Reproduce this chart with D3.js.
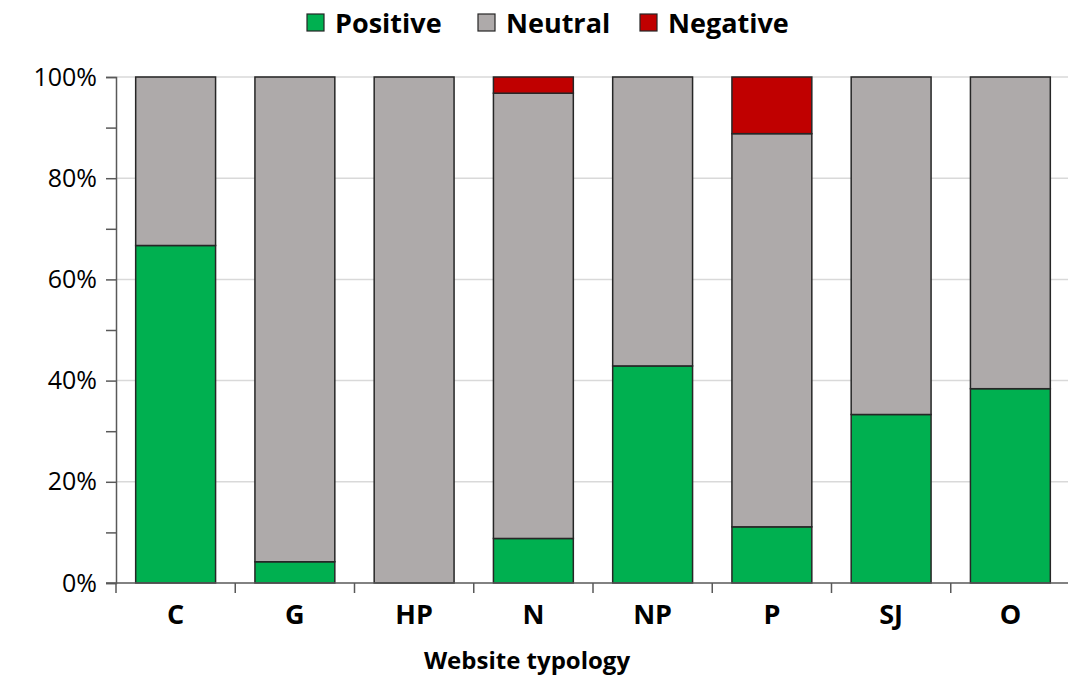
<!DOCTYPE html>
<html>
<head>
<meta charset="utf-8">
<script src="https://cdn.jsdelivr.net/npm/d3@7"></script>
<style>
  body { margin: 0; background: #fff; }
  svg text { font-family: "Open Sans", "Noto Sans", sans-serif; fill: #000; }
</style>
</head>
<body>
<svg id="chart" width="1068" height="680"></svg>
<script>
// data (percent of each website type)
var categories = ["C", "G", "HP", "N", "NP", "P", "SJ", "O"];
var positive = [66.7, 4.2, 0, 8.8, 42.9, 11.1, 33.3, 38.4];
var negative = [0, 0, 0, 3.2, 0, 11.2, 0, 0];
var neutral = categories.map(function(c, i) { return 100 - positive[i] - negative[i]; });
var seriesNames = ["Positive", "Neutral", "Negative"];
var seriesColors = ["#00B050", "#AEAAAA", "#C00000"];
var yTicks = [0, 20, 40, 60, 80, 100];

var width = 1068, height = 680;
var margin = { top: 77, right: 0, bottom: 97, left: 116 };
var svg = d3.select("#chart");

var x = d3.scaleBand().domain(categories)
	.range([margin.left, 1070]).paddingInner(0.33).paddingOuter(0.165);
var y = d3.scaleLinear().domain([0, 100]).range([height - margin.bottom, margin.top]);

// gridlines
svg.append("g").selectAll("line").data(yTicks.slice(1)).enter().append("line")
	.attr("x1", margin.left).attr("x2", 1070)
	.attr("y1", function(d) { return y(d); }).attr("y2", function(d) { return y(d); })
	.style("stroke", "#d9d9d9").style("stroke-width", 1.5);

// stack
var rows = categories.map(function(c, i) {
	return { cat: c, Positive: positive[i], Neutral: neutral[i], Negative: negative[i] };
});
var stack = d3.stack().keys(seriesNames)(rows);

svg.append("g").selectAll("g").data(stack).enter().append("g")
	.style("fill", function(d, i) { return seriesColors[i]; })
	.selectAll("rect").data(function(d) { return d.filter(function(p) { return p[1] - p[0] > 0; }); })
	.enter().append("rect")
	.attr("x", function(d) { return x(d.data.cat); })
	.attr("width", x.bandwidth())
	.attr("y", function(d) { return y(d[1]); })
	.attr("height", function(d) { return y(d[0]) - y(d[1]); })
	.style("stroke", "#262626").style("stroke-width", 1.5);

// y axis
var yAxis = svg.append("g").attr("transform", "translate(" + margin.left + ",0)")
	.call(d3.axisLeft(y).tickValues(d3.range(0, 101, 10)).tickSize(10)
		.tickFormat(function(d) { return d % 20 === 0 ? d + "%" : ""; }));
yAxis.select(".domain").style("stroke", "#595959").style("stroke-width", 1.5);
yAxis.selectAll(".tick line").style("stroke", "#595959").style("stroke-width", 1.5);
yAxis.selectAll(".tick text").attr("x", -19).style("font-size", "25px").attr("fill", "#000");

// x axis
var xAxisY = y(0);
var xg = svg.append("g");
xg.append("line").attr("x1", margin.left - 10).attr("x2", 1070)
	.attr("y1", xAxisY).attr("y2", xAxisY)
	.style("stroke", "#595959").style("stroke-width", 1.5);
var step = x.step();
xg.selectAll(".xt").data(categories).enter().append("line")
	.attr("class", "xt")
	.attr("x1", function(d) { return x(d) - x.paddingOuter() * step; })
	.attr("x2", function(d) { return x(d) - x.paddingOuter() * step; })
	.attr("y1", xAxisY).attr("y2", xAxisY + 10)
	.style("stroke", "#595959").style("stroke-width", 1.5);
xg.selectAll(".xl").data(categories).enter().append("text")
	.attr("x", function(d) { return x(d) + x.bandwidth() / 2; })
	.attr("y", xAxisY + 41)
	.attr("text-anchor", "middle")
	.style("font-size", "27px").style("font-weight", "bold")
	.text(function(d) { return d; });

svg.append("text").attr("x", 527).attr("y", 669)
	.attr("text-anchor", "middle")
	.style("font-size", "24px").style("font-weight", "bold")
	.text("Website typology");

// legend
var legendX = [307, 478, 640];
var lg = svg.append("g").selectAll("g").data(seriesNames).enter().append("g")
	.attr("transform", function(d, i) { return "translate(" + legendX[i] + ",14)"; });
lg.append("rect").attr("width", 17).attr("height", 17)
	.style("fill", function(d, i) { return seriesColors[i]; })
	.style("stroke", "#262626").style("stroke-width", 1.2);
lg.append("text").attr("x", 28).attr("y", 19)
	.style("font-size", "27px").style("font-weight", "bold")
	.text(function(d) { return d; });
</script>
</body>
</html>
